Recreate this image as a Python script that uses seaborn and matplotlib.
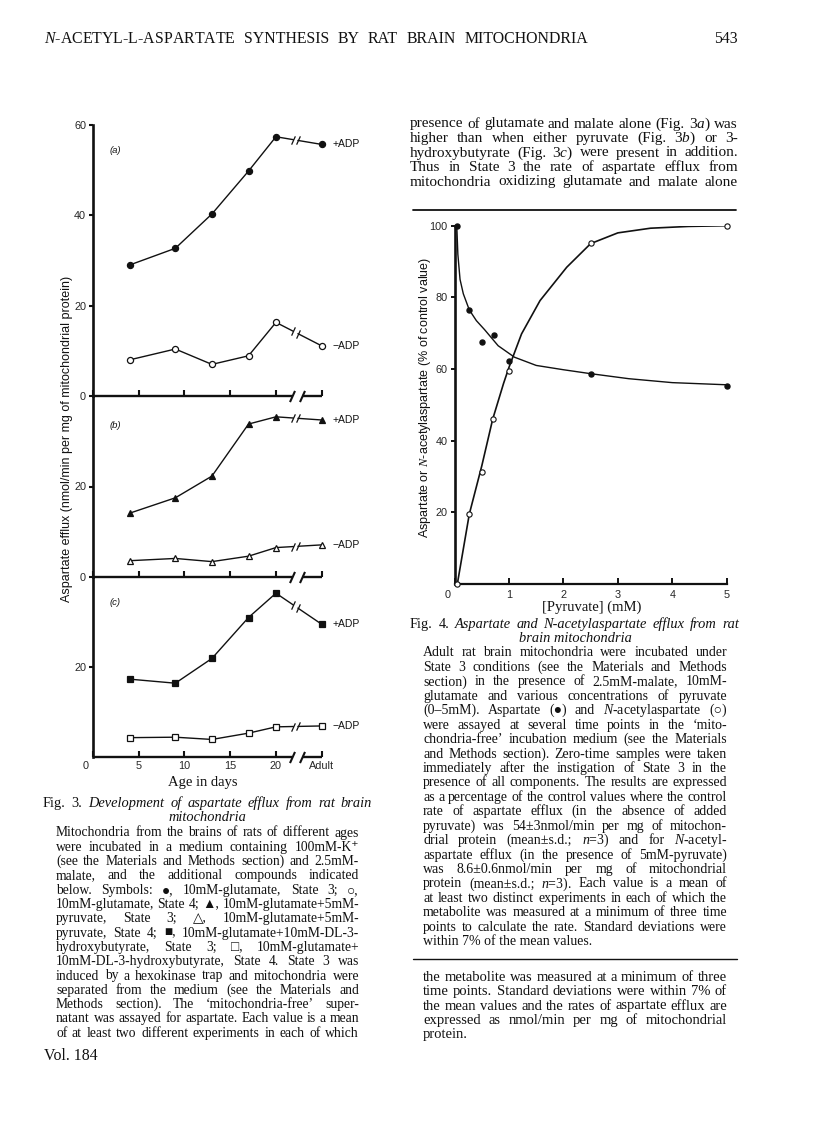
"""Page 543: Fig. 3 (aspartate efflux vs age) and Fig. 4 (pyruvate dose curves)."""
import numpy as np
import matplotlib
matplotlib.use("Agg")
import matplotlib.pyplot as plt
from matplotlib.lines import Line2D
from matplotlib.transforms import ScaledTranslation
import seaborn as sns

W, H = 816, 1136

# ------------------------------------------------------------------ #
#  Data                                                               #
# ------------------------------------------------------------------ #
# Fig. 3 -- age in days, 25 is where "Adult" sits after the axis break
AGE_X = [4, 9, 13, 17, 20, 25]
AGE_TICKS = [0, 5, 10, 15, 20, 25]
AGE_LABELS = ["0", "5", "10", "15", "20", "Adult"]

A_PLUS = [29.0, 32.7, 40.3, 49.8, 57.4, 55.7]
A_MINUS = [8.0, 10.4, 7.0, 8.9, 16.3, 11.1]
B_PLUS = [14.1, 17.5, 22.3, 33.8, 35.4, 34.7]
B_MINUS = [3.6, 4.1, 3.4, 4.6, 6.5, 7.1]
C_PLUS = [17.3, 16.4, 21.9, 31.0, 36.4, 29.5]
C_MINUS = [4.3, 4.4, 3.9, 5.3, 6.7, 6.9]

# Fig. 4 -- [pyruvate] (mM) vs % of control
PYR_ASP = [0.05, 0.27, 0.51, 0.72, 1.0, 2.5, 5.0]
ASP = [100, 76.6, 67.5, 69.6, 62.1, 58.5, 55.4]
PYR_NAA = [0.05, 0.27, 0.51, 0.70, 1.0, 2.5, 5.0]
NAA = [0, 19.4, 31.3, 46.0, 59.4, 95.2, 99.8]
# points
ASP_FIT_X = [0.04, 0.06, 0.1, 0.16, 0.27, 0.4, 0.55, 0.8, 1.1, 1.5, 2.0, 2.5, 3.2, 4.0, 5.0]
ASP_FIT_Y = [100, 92, 85, 81, 76.5, 73.5, 71, 66.5, 63.3, 61, 59.8, 58.7, 57.3, 56.2, 55.6]
NAA_FIT_X = [0.05, 0.27, 0.5, 0.7, 0.9, 1.0, 1.23, 1.57, 2.06, 2.5, 3.0, 3.6, 4.3, 5.0]
NAA_FIT_Y = [0, 19.5, 33, 46, 56, 60.5, 69.8, 79.1, 88.4, 95, 98, 99.3, 99.8, 100]

# ------------------------------------------------------------------ #
#  Text of the page                                                   #
# ------------------------------------------------------------------ #
HEADER = r"$\mathit{N}$-ACETYL-L-ASPARTATE SYNTHESIS BY RAT BRAIN MITOCHONDRIA"
TOP_RIGHT = [
    r"presence of glutamate and malate alone (Fig. 3$\mathit{a}$) was",
    r"higher than when either pyruvate (Fig. 3$\mathit{b}$) or 3-",
    r"hydroxybutyrate (Fig. 3$\mathit{c}$) were present in addition.",
    "Thus in State 3 the rate of aspartate efflux from",
    "mitochondria oxidizing glutamate and malate alone",
]
FIG3_TITLE = "Fig. 3. *Development *of *aspartate *efflux *from *rat *brain"
FIG3_BODY = [
    "Mitochondria from the brains of rats of different ages",
    "were incubated in a medium containing 100mM-K⁺",
    "(see the Materials and Methods section) and 2.5mM-",
    "malate, and the additional compounds indicated",
    "below. Symbols: ●, 10mM-glutamate, State 3; ○,",
    "10mM-glutamate, State 4; ▲, 10mM-glutamate+5mM-",
    "pyruvate, State 3; △, 10mM-glutamate+5mM-",
    "pyruvate, State 4; ■, 10mM-glutamate+10mM-DL-3-",
    "hydroxybutyrate, State 3; □, 10mM-glutamate+",
    "10mM-DL-3-hydroxybutyrate, State 4. State 3 was",
    "induced by a hexokinase trap and mitochondria were",
    "separated from the medium (see the Materials and",
    "Methods section). The ‘mitochondria-free’ super-",
    "natant was assayed for aspartate. Each value is a mean",
    "of at least two different experiments in each of which",
]
FIG4_TITLE = "Fig. 4. *Aspartate *and *N-acetylaspartate *efflux *from *rat"
FIG4_BODY = [
    "Adult rat brain mitochondria were incubated under",
    "State 3 conditions (see the Materials and Methods",
    "section) in the presence of 2.5mM-malate, 10mM-",
    "glutamate and various concentrations of pyruvate",
    r"(0–5mM). Aspartate (●) and $\mathit{N}$-acetylaspartate (○)",
    "were assayed at several time points in the ‘mito-",
    "chondria-free’ incubation medium (see the Materials",
    "and Methods section). Zero-time samples were taken",
    "immediately after the instigation of State 3 in the",
    "presence of all components. The results are expressed",
    "as a percentage of the control values where the control",
    "rate of aspartate efflux (in the absence of added",
    "pyruvate) was 54±3nmol/min per mg of mitochon-",
    r"drial protein (mean±s.d.; $\mathit{n}$=3) and for $\mathit{N}$-acetyl-",
    "aspartate efflux (in the presence of 5mM-pyruvate)",
    "was 8.6±0.6nmol/min per mg of mitochondrial",
    r"protein (mean±s.d.; $\mathit{n}$=3). Each value is a mean of",
    "at least two distinct experiments in each of which the",
    "metabolite was measured at a minimum of three time",
    "points to calculate the rate. Standard deviations were",
    "within 7% of the mean values.",
]
BOTTOM_RIGHT = [
    "the metabolite was measured at a minimum of three",
    "time points. Standard deviations were within 7% of",
    "the mean values and the rates of aspartate efflux are",
    "expressed as nmol/min per mg of mitochondrial",
    "protein.",
]

SERIF = ["Liberation Serif", "DejaVu Sans"]
SANS = ["Liberation Sans", "DejaVu Sans"]
INK = "#111111"

sns.set_theme(style="ticks")
plt.rcParams["font.family"] = SANS
plt.rcParams["mathtext.fontset"] = "custom"
plt.rcParams["mathtext.rm"] = "Liberation Serif"
plt.rcParams["mathtext.it"] = "Liberation Serif:italic"
plt.rcParams["text.color"] = INK

fig = plt.figure(figsize=(W / 100, H / 100), dpi=100)
fig.patch.set_facecolor("white")
renderer = fig.canvas.get_renderer()


def frect(l, t, r, b):
    return [l / W, 1 - b / H, (r - l) / W, (b - t) / H]


def fit_size(lines, span, s0=10.0):
    """Font size at which the widest line just fills the column."""
    widths = []
    for line in lines:
        t = fig.text(0, 0, line.replace("*", ""), size=s0, family=SERIF)
        widths.append(t.get_window_extent(renderer).width)
        t.remove()
    return s0 * span / max(widths)


def put_line(x0, x1, y, text, justify=True, size=9.0, **kw):
    """One typeset line, baseline at pixel y, optionally justified x0..x1.
    Words starting with '*' are set in italic."""
    words = text.split()
    if not justify or len(words) == 1:
        fig.text(x0 / W, 1 - y / H, text.replace("*", ""), va="baseline",
                 size=size, family=SERIF, **kw)
        return
    objs = []
    for w in words:
        style = "italic" if w.startswith("*") else "normal"
        objs.append(fig.text(0, 1 - y / H, w.lstrip("*"), va="baseline",
                             size=size, family=SERIF, style=style, **kw))
    widths = [o.get_window_extent(renderer).width for o in objs]
    gap = (x1 - x0 - sum(widths)) / (len(words) - 1)
    x = x0
    for o, wd in zip(objs, widths):
        o.set_x(x / W)
        x += wd + gap


def put_par(lines, x0, x1, y0, step, last_ragged=True, shrink=1.0):
    full = lines[:-1] if last_ragged else lines
    size = fit_size(full, x1 - x0) * shrink
    for i, line in enumerate(lines):
        ragged = last_ragged and i == len(lines) - 1
        put_line(x0, x1, y0 + i * step, line, justify=not ragged, size=size)
    return size


# ------------------------------------------------------------------ #
#  Running head and text                                              #
# ------------------------------------------------------------------ #
head_size = fit_size([HEADER], 588 - 44) * 0.97
put_line(44, 588, 43, HEADER, size=head_size)
fig.text(738 / W, 1 - 43 / H, "543", ha="right", va="baseline", size=head_size, family=SERIF)

put_par(TOP_RIGHT, 410, 738, 127.5, 14.5, last_ragged=False)

cap_size = fit_size([FIG3_TITLE], 372 - 43) * 0.94
put_line(43, 372, 807, FIG3_TITLE, size=cap_size)
fig.text(207 / W, 1 - 821 / H, "mitochondria", ha="center", va="baseline",
         size=cap_size, family=SERIF, style="italic")
put_par(FIG3_BODY, 56, 359, 836.5, 14.3, last_ragged=False)
fig.text(44 / W, 1 - 1060 / H, "Vol. 184", va="baseline", size=head_size, family=SERIF)

fig.add_artist(Line2D([413 / W, 736 / W], [1 - 210 / H] * 2, color=INK, lw=1.3))
put_line(410, 739, 628, FIG4_TITLE, size=cap_size)
fig.text(575 / W, 1 - 642 / H, "brain mitochondria", ha="center", va="baseline",
         size=cap_size, family=SERIF, style="italic")
body_size = put_par(FIG4_BODY, 423, 727, 656.5, 14.43)
fig.add_artist(Line2D([413 / W, 737 / W], [1 - 959 / H] * 2, color=INK, lw=1.0))
put_par(BOTTOM_RIGHT, 423, 727, 981, 14.25)

# ------------------------------------------------------------------ #
#  Fig. 3                                                             #
# ------------------------------------------------------------------ #
SLASH = [(-0.45, -1.0), (0.45, 1.0)]
ZERO_SHIFT = ScaledTranslation(-7 / 100, 0, fig.dpi_scale_trans)


def age_panel(ax, plus, minus, marker, ms, ymax, yticks, show_x=False):
    ax.set_xlim(0, 27)
    ax.set_ylim(0, ymax)
    for vals, name in ((plus, "+ADP"), (minus, "\u2212ADP")):
        fc = INK if name == "+ADP" else "white"
        sns.lineplot(x=AGE_X[:5], y=vals[:5], ax=ax, color=INK, lw=1.0,
                     estimator=None, sort=False, legend=False)
        # 20 days -> adult drawn with a // break
        xb = np.array([21.9, 22.4])
        yb = np.interp(xb, AGE_X[4:], vals[4:])
        ax.plot([AGE_X[4], xb[0]], [vals[4], yb[0]], color=INK, lw=1.0)
        ax.plot([xb[1], AGE_X[5]], [yb[1], vals[5]], color=INK, lw=1.0)
        ax.plot(xb, yb, ls="none", marker=SLASH, ms=6, mew=0.9, color=INK)
        ax.plot(AGE_X, vals, ls="none", marker=marker, ms=ms, mfc=fc, mec=INK,
                mew=0.9, zorder=5, clip_on=False)
        ax.text(26.2, vals[5], name, ha="left", va="center", size=7.5, family=SANS)

    # x axis with its own break
    ax.spines["bottom"].set_visible(False)
    ax.spines["top"].set_visible(False)
    ax.spines["right"].set_visible(False)
    ax.spines["left"].set_linewidth(1.9)
    ax.spines["left"].set_color(INK)
    ax.plot([0, 21.8], [0, 0], color=INK, lw=1.7, clip_on=False, solid_capstyle="butt")
    ax.plot([22.9, 25], [0, 0], color=INK, lw=1.7, clip_on=False, solid_capstyle="butt")
    ax.plot([21.8, 22.9], [0, 0], ls="none", marker=SLASH, ms=8, mew=1.5,
            color=INK, clip_on=False)

    ax.set_xticks(AGE_TICKS)
    ax.set_yticks(yticks)
    ax.tick_params(axis="x", direction="in", length=4.5, width=1.5, color=INK,
                   labelbottom=show_x, labelsize=7.8, pad=3)
    ax.tick_params(axis="y", direction="out", length=3, width=1.5, color=INK,
                   labelsize=7.8, pad=2)
    if show_x:
        ax.set_xticklabels(AGE_LABELS)
        lab0 = ax.get_xticklabels()[0]
        lab0.set_transform(lab0.get_transform() + ZERO_SHIFT)
    ax.set_xlabel("")
    ax.set_ylabel("")
    ax.patch.set_alpha(0)


ax_a = fig.add_axes(frect(93, 125, 340, 396))
ax_b = fig.add_axes(frect(93, 396, 340, 577))
ax_c = fig.add_axes(frect(93, 577, 340, 757))
age_panel(ax_a, A_PLUS, A_MINUS, "o", 4.4, 60, [0, 20, 40, 60])
age_panel(ax_b, B_PLUS, B_MINUS, "^", 4.2, 40, [0, 20])
age_panel(ax_c, C_PLUS, C_MINUS, "s", 4.2, 40, [20], show_x=True)
for letter, yl in (("(a)", 153), ("(b)", 428), ("(c)", 605)):
    fig.text(110 / W, 1 - yl / H, letter, size=6.8, style="italic", family=SANS)

fig.text(66.7 / W, 1 - 439 / H,
         "Aspartate efflux (nmol/min per mg of mitochondrial protein)",
         rotation=90, ha="center", va="center", size=9.0, family=SANS)
fig.text(203 / W, 1 - 786 / H, "Age in days", ha="center", va="baseline",
         size=body_size * 1.05, family=SERIF)

# ------------------------------------------------------------------ #
#  Fig. 4                                                             #
# ------------------------------------------------------------------ #
ax4 = fig.add_axes(frect(454.6, 225.7, 726.7, 584))
sns.lineplot(x=ASP_FIT_X, y=ASP_FIT_Y, ax=ax4, color=INK, lw=1.0,
             estimator=None, sort=False, legend=False)
sns.lineplot(x=NAA_FIT_X, y=NAA_FIT_Y, ax=ax4, color=INK, lw=1.2,
             estimator=None, sort=False, legend=False)
ax4.plot(PYR_ASP, ASP, ls="none", marker="o", ms=3.6, mfc=INK, mec=INK,
         zorder=5, clip_on=False)
ax4.plot(PYR_NAA, NAA, ls="none", marker="o", ms=3.8, mfc="white", mec=INK,
         mew=0.8, zorder=5, clip_on=False)
ax4.set_xlim(0, 5)
ax4.set_ylim(0, 100)
ax4.set_xticks([0, 1, 2, 3, 4, 5])
ax4.set_yticks([20, 40, 60, 80, 100])
ax4.tick_params(axis="x", direction="in", length=4, width=1.4, color=INK,
                labelsize=7.8, pad=4)
ax4.tick_params(axis="y", direction="out", length=3, width=1.4, color=INK,
                labelsize=7.8, pad=2)
lab0 = ax4.get_xticklabels()[0]
lab0.set_transform(lab0.get_transform() + ZERO_SHIFT)
for side in ("top", "right"):
    ax4.spines[side].set_visible(False)
ax4.spines["left"].set_linewidth(1.9)
ax4.spines["bottom"].set_linewidth(1.6)
for side in ("left", "bottom"):
    ax4.spines[side].set_color(INK)
ax4.set_xlabel("")
ax4.set_ylabel("")
ax4.patch.set_alpha(0)

fig.text(425 / W, 1 - 397 / H,
         r"Aspartate or $\mathit{N}$-acetylaspartate (% of control value)",
         rotation=90, ha="center", va="center", size=9.0, family=SANS)
fig.text(592 / W, 1 - 611 / H, "[Pyruvate] (mM)", ha="center", va="baseline",
         size=body_size * 1.05, family=SERIF)

fig.savefig("out.png", dpi=100, facecolor="white")
plt.close(fig)
